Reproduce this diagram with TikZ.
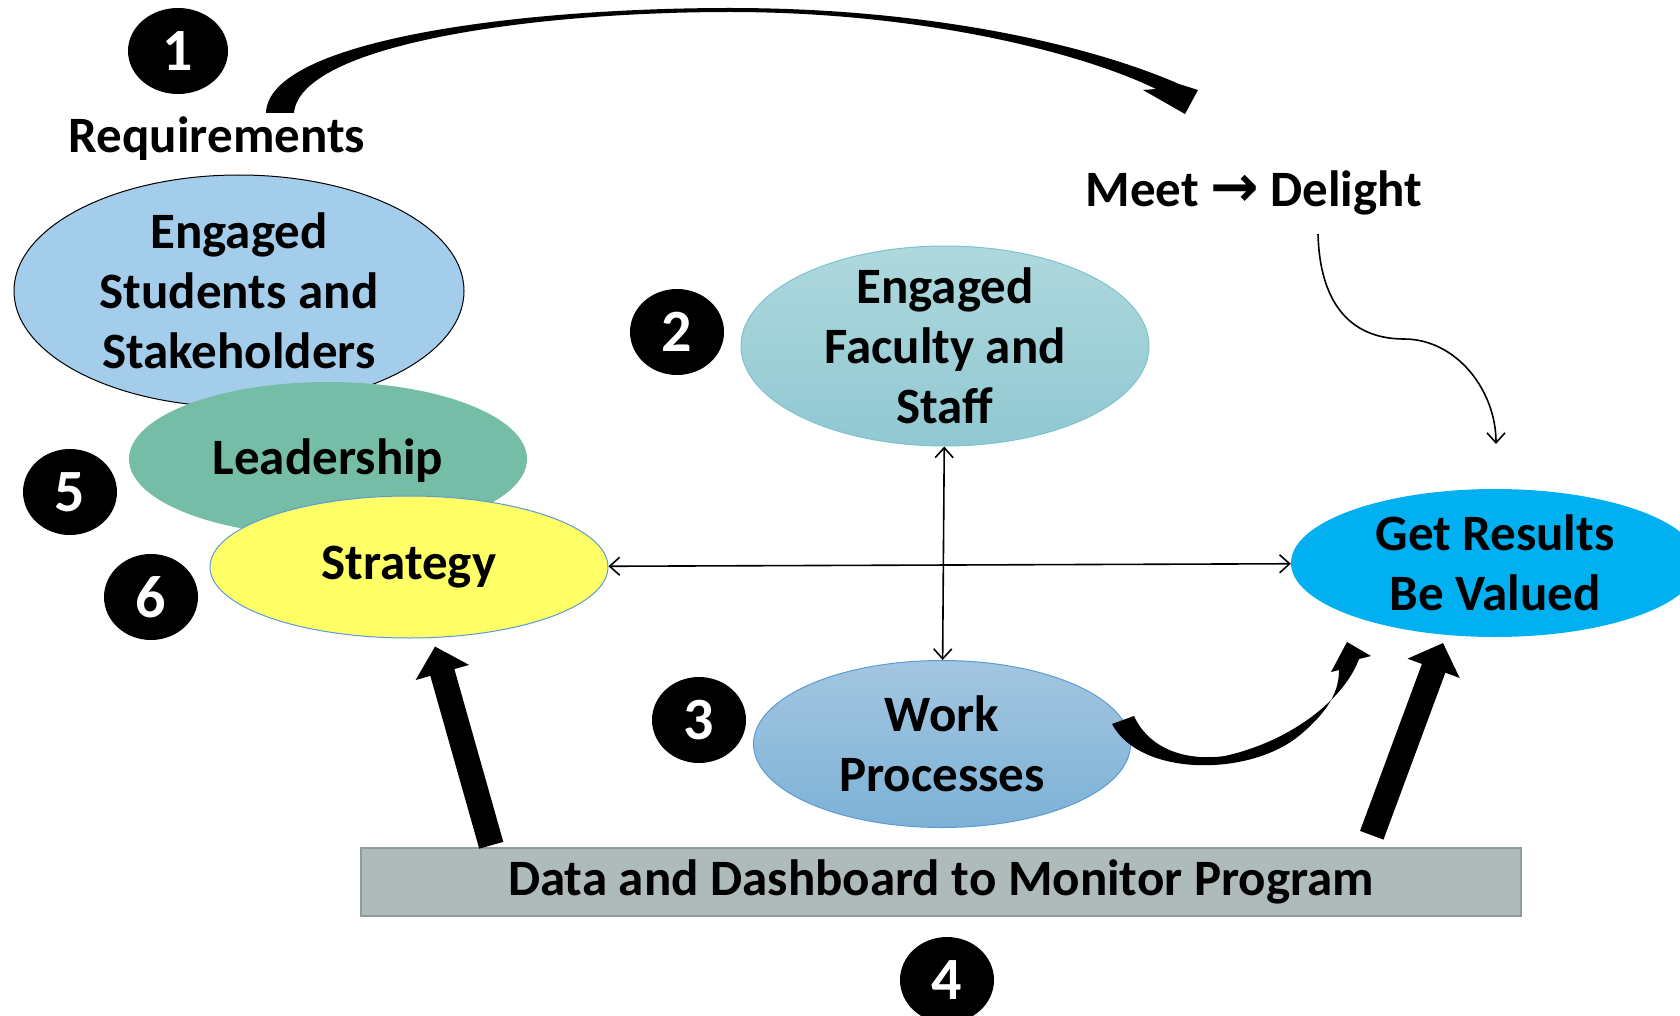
\documentclass[tikz,border=0pt]{standalone}
\usepackage{fontspec}
\setmainfont{Carlito}
\newfontfamily\arrowfont{DejaVu Sans}
\usetikzlibrary{shapes.geometric,arrows.meta}
\definecolor{studblue}{HTML}{A4CDEB}
\definecolor{leadgreen}{HTML}{75BDA6}
\definecolor{stratyellow}{HTML}{FFFF66}
\definecolor{edgeblue}{HTML}{5B9BD5}
\definecolor{factop}{HTML}{AED8DD}
\definecolor{facbot}{HTML}{91C8D2}
\definecolor{facedge}{HTML}{7CC3CD}
\definecolor{worktop}{HTML}{A3C6E0}
\definecolor{workbot}{HTML}{7DB2D6}
\definecolor{resblue}{HTML}{00B0F0}
\definecolor{datagray}{HTML}{AFBBBB}
\definecolor{dataedge}{HTML}{8E9C9C}
\begin{document}
\begin{tikzpicture}[x=1pt,y=-1pt,
  num/.style={ellipse,fill=black,text=white,inner sep=0pt,minimum width=94pt,minimum height=86pt,font=\fontsize{60}{60}\selectfont\bfseries},
  blob/.style={ellipse,inner sep=0pt},
  txt/.style={align=center,inner sep=0pt,font=\fontsize{51}{60}\selectfont\bfseries},
  link/.style={line width=1.6pt,{Straight Barb[length=10pt,width=18pt]}-{Straight Barb[length=10pt,width=18pt]}},
  fatarrow/.style={line width=25pt,-{Triangle[length=27pt,width=54pt]}}]
\useasboundingbox (0,0) rectangle (1680,1016);
% ellipses
\node[blob,draw=black,line width=1pt,fill=studblue,minimum width=450pt,minimum height=232pt] (stud) at (239,291) {};
\node[blob,fill=leadgreen,minimum width=398pt,minimum height=154pt] (lead) at (328,459) {};
\node[blob,draw=edgeblue,line width=1pt,fill=stratyellow,minimum width=398pt,minimum height=142pt] (strat) at (409,567) {};
\node[blob,draw=facedge,line width=1pt,top color=factop,bottom color=facbot,minimum width=408pt,minimum height=200pt] (fac) at (945,346) {};
\node[blob,draw=edgeblue,line width=1pt,top color=worktop,bottom color=workbot,minimum width=377pt,minimum height=167pt] (work) at (942,744) {};
\node[blob,fill=resblue,minimum width=408pt,minimum height=148pt] (res) at (1495,563) {};
\node[draw=dataedge,line width=1.5pt,fill=datagray,inner sep=0pt,minimum width=1160pt,minimum height=68pt] (data) at (941,882) {};
% texts
\node[txt] at (stud) {Engaged\\Students and\\Stakeholders};
\node[txt] at (328,461) {Leadership};
\node[txt] at (strat) {Strategy};
\node[txt] at (fac) {Engaged\\Faculty and\\Staff};
\node[txt] at (work) {Work\\Processes};
\node[txt] at (res) {Get Results\\Be Valued};
\node[txt] at (data) {Data and Dashboard to Monitor Program};
\node[txt] (req) at (217,139) {Requirements};
\node[txt] (meet) at (1254,193) {Meet {\arrowfont\bfseries\fontsize{58}{60}\selectfont →} Delight};
% numbers
\node[num,minimum width=100pt] (n1) at (178,51) {1};
\node[num] (n2) at (677,332) {2};
\node[num] (n3) at (699,720) {3};
\node[num] (n4) at (947,980) {4};
\node[num] (n5) at (70,492) {5};
\node[num] (n6) at (151,597) {6};
% arrows
\draw[link] (strat) -- (res);
\draw[link] (fac) -- (work);
\coordinate (dstart) at (1318,234);
\coordinate (dend) at (1496,444);
\draw[line width=1.6pt,-{Straight Barb[length=10pt,width=18pt]}] (dstart) .. controls (1320,310) and (1356,339) .. (1404,339) .. controls (1456,339) and (1496,390) .. (dend);
\draw[fatarrow] ([shift={(131pt,2pt)}]data.north west) -- ([shift={(26pt,-8pt)}]strat.south);
\draw[fatarrow] ([shift={(-150pt,12pt)}]data.north east) -- ([shift={(-52pt,-80pt)}]res.center);
% curved block arrows
\fill (266,113) .. controls (268,40) and (520,8) .. (730,8) .. controls (930,8) and (1090,45) .. (1179,84)
  -- (1198,90) -- (1185,114) -- (1143,90) -- (1156,89)
  .. controls (1080,52) and (920,12) .. (730,12) .. controls (530,12) and (300,45) .. (294,113) -- cycle;
\fill (1112,724) .. controls (1140,777) and (1250,777) .. (1300,735) .. controls (1330,710) and (1339,690) .. (1339,670)
  -- (1331,672) -- (1347,642) -- (1371,656) -- (1359,659)
  .. controls (1345,697) and (1295,740) .. (1225,756) .. controls (1180,762) and (1147,745) .. (1134,716) -- cycle;
\end{tikzpicture}
\end{document}
